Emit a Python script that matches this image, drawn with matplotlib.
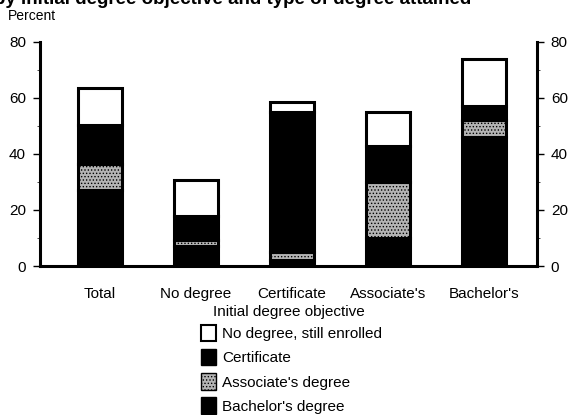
import matplotlib.pyplot as plt
from matplotlib.patches import Patch

plt.rcParams['font.family'] = ['Liberation Sans', 'DejaVu Sans']
plt.rcParams['hatch.linewidth'] = 0.6

categories = ['Total', 'No degree', 'Certificate', "Associate's", "Bachelor's"]
bachelors = [27, 7, 2, 10, 46]
associates = [9.5, 2.2, 3, 20, 6]
certificate = [14, 8.5, 50, 13, 5]
still_enrolled = [13, 13, 3.5, 12, 17]

fig = plt.figure(figsize=(5.78, 4.15), dpi=100)
ax = fig.add_axes([0.069, 0.359, 0.86, 0.54])

x = list(range(len(categories)))
w = 0.46
lw = 2.2
b1 = bachelors
b2 = [a + b for a, b in zip(b1, associates)]
b3 = [a + b for a, b in zip(b2, certificate)]

ax.bar(x, bachelors, w, color='black', edgecolor='black', linewidth=lw)
ax.bar(x, associates, w, bottom=b1, color='#b4b4b4', edgecolor='black',
       linewidth=lw, hatch='.....')
ax.bar(x, certificate, w, bottom=b2, color='black', edgecolor='black', linewidth=lw)
ax.bar(x, still_enrolled, w, bottom=b3, color='white', edgecolor='black', linewidth=lw)

ax.set_xlim(-0.625, 4.55)
ax.set_ylim(0, 80)
ax.set_yticks([0, 20, 40, 60, 80])
ax.set_yticks([10, 30, 50, 70], minor=True)
ax.tick_params(axis='y', which='both', direction='out', labelsize=11,
               right=True, labelright=True, width=1)
ax.tick_params(axis='y', which='major', length=5, pad=5)
ax.tick_params(axis='y', which='minor', length=2, width=0.5)
ax.set_xticks(x)
ax.set_xticklabels(categories, fontsize=11)
ax.tick_params(axis='x', length=0, pad=15)
ax.set_xlabel('Initial degree objective', fontsize=11, labelpad=3)

ax.spines['top'].set_visible(False)
for s in ['left', 'right', 'bottom']:
    ax.spines[s].set_linewidth(2.2)

fig.text(0.014, 0.952, 'Percent', fontsize=10)
# title line is cropped at the top edge in the source scan
fig.text(-0.01, 0.99, 'by initial degree objective and type of degree attained',
         fontsize=13.5, fontweight='bold', va='baseline')

handles = [
    Patch(facecolor='white', edgecolor='black', linewidth=1.5, label='No degree, still enrolled'),
    Patch(facecolor='black', edgecolor='black', label='Certificate'),
    Patch(facecolor='#b4b4b4', edgecolor='black', hatch='.....', label="Associate's degree"),
    Patch(facecolor='black', edgecolor='black', label="Bachelor's degree"),
]
fig.legend(handles=handles, loc='upper left', bbox_to_anchor=(0.348, 0.218),
           frameon=False, fontsize=11, handlelength=1.0, handleheight=1.3,
           handletextpad=0.35, labelspacing=0.5, borderaxespad=0, borderpad=0)

fig.savefig('out.png', dpi=100)
